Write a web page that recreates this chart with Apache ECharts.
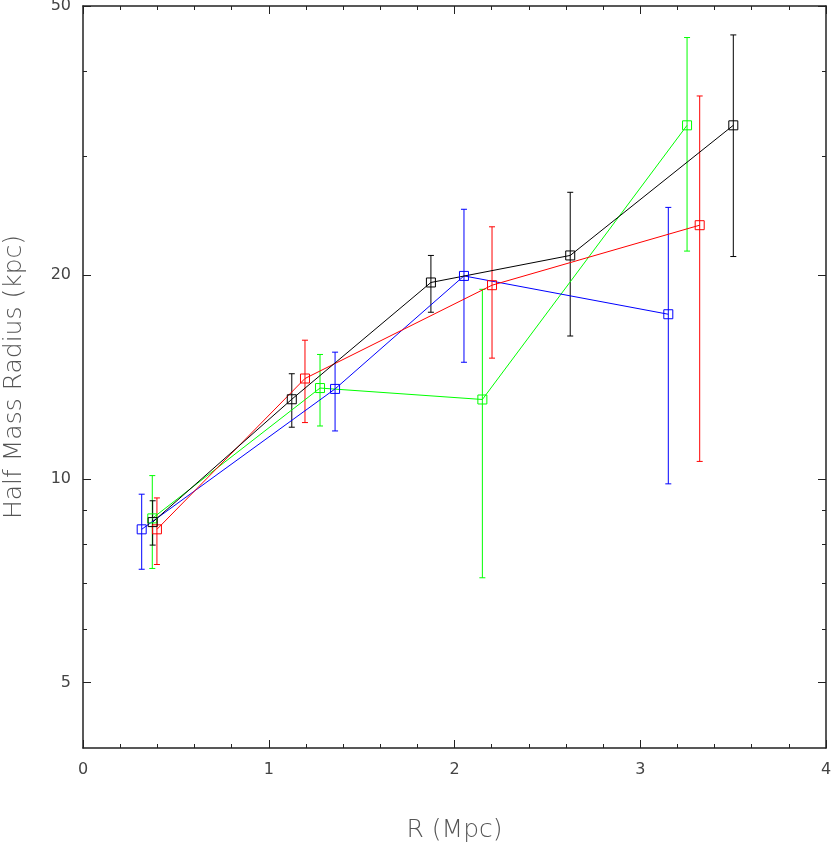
<!DOCTYPE html>
<html>
<head>
<meta charset="utf-8">
<script src="https://cdn.jsdelivr.net/npm/echarts@6/dist/echarts.min.js"></script>
<style>
  html, body { margin: 0; padding: 0; background: #fff; }
  #main { width: 831px; height: 843px; }
</style>
</head>
<body>
<div id="main"></div>
<script>
// R (Mpc) and half mass radius (kpc) with 1-sigma errors, per sample
var blackR = [0.375, 1.124, 1.873, 2.623, 3.501]
var blackV = [8.63, 13.11, 19.51, 21.39, 33.31]
var blackE = [0.65, 1.19, 1.88, 5.13, 12.0]

var redR = [0.398, 1.195, 2.202, 3.320]
var redV = [8.42, 14.07, 19.33, 23.71]
var redE = [0.95, 1.96, 4.25, 13.1]

var greenR = [0.373, 1.276, 2.150, 3.252]
var greenV = [8.74, 13.62, 13.10, 33.31]
var greenE = [1.37, 1.65, 5.96, 11.6]

var blueR = [0.316, 1.357, 2.051, 3.151]
var blueV = [8.42, 13.58, 19.95, 17.51]
var blueE = [1.07, 1.81, 5.08, 7.68]

var yMajor = [5, 10, 20, 50]
var yMinor = [6, 7, 8, 9, 30, 40]

var FONT = 'DejaVu Sans'
var AXIS_COLOR = '#222'
var yLogMin = Math.log10(4)
var yLogMax = Math.log10(50)

function points (xs, ys) {
  return xs.map(function (x, i) { return [x, ys[i]] })
}
function bars (xs, ys, es) {
  return xs.map(function (x, i) { return [x, ys[i] - es[i], ys[i] + es[i]] })
}

function errorBar (color) {
  return function (params, api) {
    var x = api.value(0)
    var lo = api.coord([x, api.value(1)])
    var hi = api.coord([x, api.value(2)])
    var w = 3
    var st = { stroke: color, lineWidth: 1 }
    return {
      type: 'group',
      children: [
        { type: 'line', shape: { x1: hi[0], y1: hi[1], x2: lo[0], y2: lo[1] }, style: st },
        { type: 'line', shape: { x1: hi[0] - w, y1: hi[1], x2: hi[0] + w, y2: hi[1] }, style: st },
        { type: 'line', shape: { x1: lo[0] - w, y1: lo[1], x2: lo[0] + w, y2: lo[1] }, style: st }
      ]
    }
  }
}

var square = 'path://M0,0H10V10H0Z'

function lineSeries (name, color, xs, ys) {
  return {
    name: name,
    type: 'line',
    data: points(xs, ys),
    symbol: square,
    symbolSize: 9,
    showAllSymbol: true,
    itemStyle: { color: 'rgba(0,0,0,0)', borderColor: color, borderWidth: 1 },
    lineStyle: { color: color, width: 1 },
    emphasis: { disabled: true },
    animation: false,
    z: 3
  }
}
function barSeries (name, color, xs, ys, es) {
  return {
    name: name + ' err',
    type: 'custom',
    renderItem: errorBar(color),
    data: bars(xs, ys, es),
    encode: { x: 0, y: [1, 2] },
    animation: false,
    z: 2
  }
}

// overlay value axes (log10 space) that only draw ticks and labels
function tickAxis (pos, values, len, labels) {
  return {
    type: 'value',
    position: pos,
    min: yLogMin,
    max: yLogMax,
    axisLine: { show: false },
    splitLine: { show: false },
    axisTick: {
      show: true,
      inside: true,
      length: len,
      customValues: values.map(function (v) { return Math.log10(v) }),
      lineStyle: { color: AXIS_COLOR, width: 1 }
    },
    axisLabel: {
      show: labels,
      margin: 12,
      customValues: values.map(function (v) { return Math.log10(v) }),
      formatter: function (v) { return String(Math.round(Math.pow(10, v))) },
      fontFamily: FONT,
      fontSize: 16,
      color: '#444'
    }
  }
}

var chart = echarts.init(document.getElementById('main'))
chart.setOption({
  backgroundColor: '#fff',
  animation: false,
  grid: { left: 83, right: 5, top: 6, bottom: 95, containLabel: false, outerBoundsMode: 'none' },
  xAxis: [
    {
      type: 'value',
      min: 0,
      max: 4,
      interval: 1,
      name: 'R (Mpc)',
      nameLocation: 'middle',
      nameGap: 70,
      nameTextStyle: { fontFamily: FONT, fontSize: 25, color: '#555', fontWeight: 200 },
      axisLine: { show: true, lineStyle: { color: AXIS_COLOR, width: 1.5 } },
      axisTick: { inside: true, length: 8, lineStyle: { color: AXIS_COLOR } },
      minorTick: { show: true, splitNumber: 5, length: 4, lineStyle: { color: AXIS_COLOR } },
      splitLine: { show: false },
      axisLabel: { margin: 14, fontFamily: FONT, fontSize: 16, color: '#444' }
    },
    {
      type: 'value',
      position: 'top',
      min: 0,
      max: 4,
      interval: 1,
      axisLine: { show: true, lineStyle: { color: AXIS_COLOR, width: 1.5 } },
      axisTick: { inside: true, length: 8, lineStyle: { color: AXIS_COLOR } },
      minorTick: { show: true, splitNumber: 5, length: 4, lineStyle: { color: AXIS_COLOR } },
      splitLine: { show: false },
      axisLabel: { show: false }
    }
  ],
  yAxis: [
    {
      type: 'log',
      min: 4,
      max: 50,
      name: 'Half Mass Radius (kpc)',
      nameLocation: 'middle',
      nameGap: 56,
      nameTextStyle: { fontFamily: FONT, fontSize: 25, color: '#555', fontWeight: 200 },
      axisLine: { show: true, lineStyle: { color: AXIS_COLOR, width: 1.5 } },
      axisTick: { show: false },
      axisLabel: { show: false },
      splitLine: { show: false }
    },
    tickAxis('left', yMajor, 8, true),
    tickAxis('left', yMinor, 4, false),
    {
      type: 'log',
      min: 4,
      max: 50,
      position: 'right',
      axisLine: { show: true, lineStyle: { color: AXIS_COLOR, width: 1.5 } },
      axisTick: { show: false },
      axisLabel: { show: false },
      splitLine: { show: false }
    },
    tickAxis('right', yMajor, 8, false),
    tickAxis('right', yMinor, 4, false)
  ],
  series: [
    barSeries('green', '#00ff00', greenR, greenV, greenE),
    barSeries('blue', '#0000ff', blueR, blueV, blueE),
    barSeries('red', '#ff0000', redR, redV, redE),
    barSeries('black', '#000000', blackR, blackV, blackE),
    lineSeries('green', '#00ff00', greenR, greenV),
    lineSeries('blue', '#0000ff', blueR, blueV),
    lineSeries('red', '#ff0000', redR, redV),
    lineSeries('black', '#000000', blackR, blackV)
  ]
})
</script>
</body>
</html>
